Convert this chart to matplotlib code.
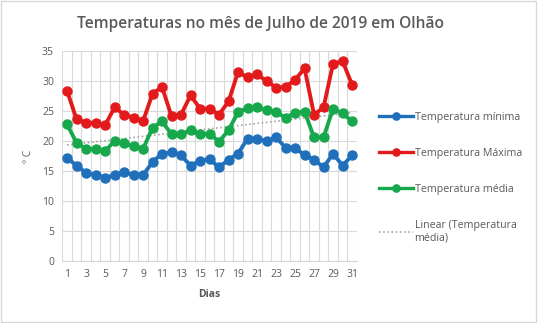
import numpy as np
import matplotlib.pyplot as plt
from matplotlib.patches import Rectangle

plt.rcParams['font.family'] = ['Open Sans', 'DejaVu Sans']

# dados
dias = list(range(1, 32))
t_min = [17.2, 15.9, 14.7, 14.3, 13.9, 14.3, 14.9, 14.3, 14.3, 16.5,
         17.9, 18.1, 17.6, 15.9, 16.7, 17.0, 15.6, 16.9, 17.9, 20.4,
         20.4, 20.0, 20.6, 18.9, 18.9, 17.6, 16.9, 15.6, 17.9, 15.9, 17.6]
t_max = [28.4, 23.6, 23.0, 23.0, 22.6, 25.6, 24.4, 23.9, 23.3, 27.9,
         29.0, 24.1, 24.4, 27.6, 25.4, 25.4, 24.4, 26.6, 31.5, 30.6,
         31.1, 30.0, 28.9, 29.0, 30.2, 32.1, 24.4, 25.6, 32.9, 33.3, 29.4]
t_med = [22.8, 19.7, 18.7, 18.6, 18.3, 20.0, 19.6, 19.1, 18.7, 22.2,
         23.3, 21.1, 21.1, 21.8, 21.1, 21.2, 19.9, 21.8, 24.8, 25.5,
         25.7, 25.1, 24.8, 23.9, 24.7, 24.9, 20.6, 20.6, 25.4, 24.6, 23.3]

cinza = '#595959'
fig = plt.figure(figsize=(5.38, 3.23), dpi=100)
fig.patches.append(Rectangle((0.002, 0.003), 0.995, 0.993, transform=fig.transFigure,
                             fill=False, edgecolor='#d9d9d9', linewidth=1))
ax = fig.add_axes([62.3/538, 1-261/323, 294.5/538, 210/323])

x = np.array(dias)
ax.plot(x, t_min, color='#1f6fba', lw=2.8, marker='o', ms=6.5, label='Temperatura mínima', zorder=3)
ax.plot(x, t_max, color='#e31a1c', lw=2.8, marker='o', ms=6.5, label='Temperatura Máxima', zorder=3)
ax.plot(x, t_med, color='#16a84b', lw=2.8, marker='o', ms=6.5, label='Temperatura média', zorder=3)
a, b = np.polyfit(x, t_med, 1)
ax.plot(x, a*x + b, color='#a6a6a6', lw=1.2, ls=(0, (1, 1.5)), label='Linear (Temperatura\nmédia)', zorder=2)

ax.set_xlim(0.5, 31.5)
ax.set_ylim(0, 35)
ax.set_yticks(range(0, 36, 5))
ax.set_xticks(range(1, 32, 2))
ax.set_xticks(np.arange(0.5, 32, 1), minor=True)
ax.grid(True, which='minor', axis='x', color='#d9d9d9', lw=0.8)
ax.grid(True, which='major', axis='y', color='#d9d9d9', lw=0.8)
ax.tick_params(which='both', length=0, labelsize=7.5, colors=cinza, pad=6)
for s in ax.spines.values():
    s.set_visible(False)
ax.spines['bottom'].set_visible(True)
ax.spines['bottom'].set_color('#d9d9d9')
ax.set_axisbelow(True)

ax.set_xlabel('Dias', fontsize=7.5, color=cinza, fontweight='bold', labelpad=6)
ax.set_ylabel('º C', fontsize=7.5, color=cinza, labelpad=6)
fig.suptitle('Temperaturas no mês de Julho de 2019 em Olhão', x=0.485, y=0.95,
             fontsize=11.2, color=cinza, fontweight='semibold')

leg = ax.legend(loc='upper left', bbox_to_anchor=(1.06, 0.73), frameon=False,
                fontsize=7.7, labelspacing=2.35, handlelength=3.2, handletextpad=0.15,
                borderaxespad=0, markerscale=0.8)
for line in leg.get_lines()[:3]:
    line.set_linewidth(2.4)
for t in leg.get_texts():
    t.set_color(cinza)

fig.savefig('out.png', dpi=100)
